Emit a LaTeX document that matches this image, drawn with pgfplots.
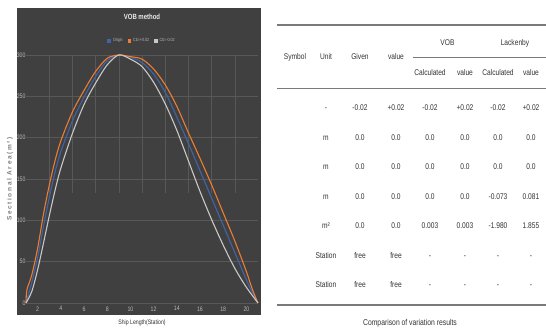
\documentclass[border=0pt]{standalone}
\usepackage{fontspec}
\setmainfont{Liberation Sans}
\newfontfamily\cf[FakeStretch=0.8]{Liberation Sans}
\newfontfamily\lsf[LetterSpace=25]{Liberation Sans}
\usepackage{pgfplots}
\pgfplotsset{compat=1.18}
\definecolor{bgdark}{HTML}{404040}
\definecolor{gridc}{HTML}{585858}
\definecolor{cor}{HTML}{ED7D31}
\definecolor{cbl}{HTML}{3F65A9}
\definecolor{cgr}{HTML}{C8C8C8}
\definecolor{tickc}{HTML}{B8B8B8}
\definecolor{txt}{HTML}{333333}
\definecolor{rulec}{HTML}{7A7A7A}
\begin{document}
\begin{tikzpicture}[x=1pt,y=1pt,
  cell/.style={font=\cf\fontsize{8.3}{10}\selectfont, text=txt, anchor=base, inner sep=0pt}]
\useasboundingbox (0,0) rectangle (546,328);
\fill[white] (0,0) rectangle (546,328);
\fill[bgdark] (17,13) rectangle (261,320);
\begin{axis}[at={(26pt,25pt)}, anchor=south west, scale only axis,
  width=232pt, height=248pt,
  xmin=1, xmax=21, ymin=0, ymax=300, clip=false,
  axis line style={draw=none}, major tick length=0pt,
  xtick={2,4,...,20}, ytick={0,50,...,300},
  ymajorgrids, grid style={gridc, line width=0.6pt},
  tick label style={font=\cf\fontsize{6.5}{7}\selectfont, text=tickc},
  yticklabel style={xshift=3pt},
  /pgf/number format/assume math mode=true,
  title={VOB method},
  title style={at={(0.5,1)}, anchor=center, yshift=32pt, font=\cf\bfseries\fontsize{7.5}{9}\selectfont, text=white!92!black},
  xlabel={Ship Length(Station)},
  xlabel style={at={(0.5,0)}, anchor=center, yshift=-20pt, font=\cf\fontsize{6.5}{8}\selectfont, text=txt},
  ylabel={Sectional Area(m²)},
  ylabel style={at={(0,0.5)}, anchor=center, rotate=0, yshift=16pt, font=\lsf\bfseries\fontsize{6.5}{8}\selectfont, text=black!50},
  legend columns=3,
  legend style={at={(0.5,1)}, anchor=center, yshift=14pt, draw=none, fill=none,
    font=\cf\fontsize{4.5}{5}\selectfont, text=tickc,
    /tikz/every even column/.append style={column sep=3pt}},
  legend image code/.code={\fill[#1] (0pt,-1.5pt) rectangle (2.5pt,1.5pt);},
]
\foreach \g in {3,5,...,19} {\edef\tmp{\noexpand\draw[gridc, line width=0.6pt] (axis cs:\g,300) -- (axis cs:\g,133);}\tmp}
\addplot[cbl, line width=1.1pt, smooth] coordinates {
(1,0) (1.5,25) (2,55) (2.5,92) (3,127) (3.5,158) (4,183) (5,220) (6,249) (7,274) (8,293) (9,300) (10,297) (11,291) (12,277) (13,255) (14,225) (15,193) (16,160) (17,127) (18,94) (19,61) (20,28) (20.5,13) (21,0)};
\addlegendentry{Origin}
\addplot[cor, line width=1.1pt, smooth] coordinates {
(1,0) (1.08,16) (1.5,34) (2,66) (2.5,107) (3,142) (3.5,172) (4,196) (5,231) (6,257) (7,280) (8,296) (9,300) (10,298) (11,295) (12,283) (13,264) (14,238) (15,206) (16,175) (17,143) (18,109) (19,75) (20,38) (20.5,17) (21,0)};
\addlegendentry{Cb=+0.02}
\addplot[cgr, line width=1.1pt, smooth] coordinates {
(1,0) (1.5,14) (2,40) (2.5,72) (3,105) (3.5,136) (4,163) (5,205) (6,240) (7,266) (8,288) (9,300) (10,295) (11,286) (12,267) (13,241) (14,209) (15,172) (16,135) (17,101) (18,70) (19,42) (20,19) (21,0)};
\addlegendentry{Cb=-0.02}
\end{axis}
% table
\draw[rulec, line width=1.5pt] (277,303) -- (546,303);
\draw[rulec, line width=0.7pt] (413,270.3) -- (546,270.3);
\draw[rulec, line width=0.7pt] (277,240) -- (546,240);
\draw[rulec, line width=1.5pt] (277,23) -- (546,23);
\node[cell] at (295,268.3) {Symbol};
\node[cell] at (326,268.3) {Unit};
\node[cell] at (360,268.3) {Given};
\node[cell] at (396,268.3) {value};
\node[cell] at (447.5,282) {VOB};
\node[cell] at (515,282) {Lackenby};
\node[cell] at (430,252.3) {Calculated};
\node[cell] at (465,252.3) {value};
\node[cell] at (498,252.3) {Calculated};
\node[cell] at (531,252.3) {value};
% rows
\def\row#1#2#3#4#5#6#7#8{%
  \node[cell] at (326,#1) {#2};
  \node[cell] at (360,#1) {#3};
  \node[cell] at (396,#1) {#4};
  \node[cell] at (430,#1) {#5};
  \node[cell] at (465,#1) {#6};
  \node[cell] at (498,#1) {#7};
  \node[cell] at (531,#1) {#8};}
\row{217.5}{-}{-0.02}{+0.02}{-0.02}{+0.02}{-0.02}{+0.02}
\row{187.9}{m}{0.0}{0.0}{0.0}{0.0}{0.0}{0.0}
\row{158.3}{m}{0.0}{0.0}{0.0}{0.0}{0.0}{0.0}
\row{128.7}{m}{0.0}{0.0}{0.0}{0.0}{-0.073}{0.081}
\row{99.2}{m²}{0.0}{0.0}{0.003}{0.003}{-1.980}{1.855}
\row{69.6}{Station}{free}{free}{-}{-}{-}{-}
\row{40}{Station}{free}{free}{-}{-}{-}{-}
\node[font=\cf\fontsize{8.5}{10}\selectfont, text=txt, anchor=base, inner sep=0pt] at (410,2) {Comparison of variation results};
\end{tikzpicture}
\end{document}
